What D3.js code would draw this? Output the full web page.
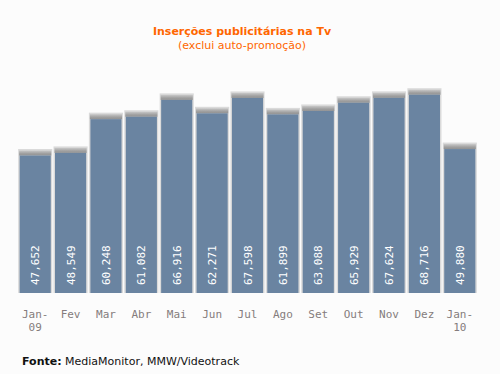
<!DOCTYPE html>
<html>
<head>
<meta charset="utf-8">
<script src="https://cdn.jsdelivr.net/npm/d3@7"></script>
<style>
  body { margin: 0; background: #fcfcfc; }
  svg { display: block; }
  .title { font-family: "DejaVu Sans", Verdana, sans-serif; font-size: 11px; font-weight: bold; fill: #ff6600; }
  .sub { font-family: "DejaVu Sans", Verdana, sans-serif; font-size: 11px; fill: #ff6600; }
  .val { font-family: "DejaVu Sans Mono", monospace; font-size: 11px; fill: #ffffff; }
  .month { font-family: "DejaVu Sans Mono", monospace; font-size: 11px; fill: #857c7c; }
  .src { font-family: "DejaVu Sans", Verdana, sans-serif; font-size: 11px; fill: #111; }
</style>
</head>
<body>
<script>
var months = ['Jan-09', 'Fev', 'Mar', 'Abr', 'Mai', 'Jun', 'Jul', 'Ago', 'Set', 'Out', 'Nov', 'Dez', 'Jan-10'];
var values = [47652, 48549, 60248, 61082, 66916, 62271, 67598, 61899, 63088, 65929, 67624, 68716, 49880];

var width = 500;
var height = 374;

var canvas = d3.select('body')
    .append('svg')
    .attr('width', width)
    .attr('height', height)

var defs = canvas.append('defs')
var grad = defs.append('linearGradient')
    .attr('id', 'cap')
    .attr('x1', 0).attr('y1', 0).attr('x2', 0).attr('y2', 1)
grad.append('stop').attr('offset', '0%').attr('stop-color', '#c8c8c8')
grad.append('stop').attr('offset', '60%').attr('stop-color', '#a0a0a0')
grad.append('stop').attr('offset', '100%').attr('stop-color', '#929292')

var x = d3.scaleBand()
    .domain(months)
    .range([17.5, 477.5])
    .paddingInner(0.12)
    .paddingOuter(0.06)

var y = d3.scaleLinear()
    .domain([0, 70000])
    .range([293, 91])

var bars = canvas.selectAll('g.bar')
    .data(values)
    .enter()
    .append('g')
    .attr('class', 'bar')

// light frame
bars.append('rect')
    .attr('x', function (d, i) { return x(months[i]) - 1.5; })
    .attr('y', function (d) { return y(d) - 6.5; })
    .attr('width', x.bandwidth() + 3)
    .attr('height', function (d) { return y(0) - y(d) + 6.5; })
    .attr('fill', '#dadada')

// dark top cap
bars.append('rect')
    .attr('x', function (d, i) { return x(months[i]) - 0.5; })
    .attr('y', function (d) { return y(d) - 5; })
    .attr('width', x.bandwidth() + 1)
    .attr('height', 5)
    .attr('fill', 'url(#cap)')

// bar body
bars.append('rect')
    .attr('x', function (d, i) { return x(months[i]); })
    .attr('y', function (d) { return y(d); })
    .attr('width', x.bandwidth())
    .attr('height', function (d) { return y(0) - y(d); })
    .attr('fill', '#6a84a1')

// values
bars.append('text')
    .attr('class', 'val')
    .attr('transform', function (d, i) {
        return 'translate(' + (x(months[i]) + x.bandwidth() / 2 + 4) + ',285) rotate(-90)';
    })
    .text(function (d) { return d3.format(',')(d); })

// month labels
var labels = canvas.selectAll('text.month')
    .data(months)
    .enter()
    .append('text')
    .attr('class', 'month')
    .attr('text-anchor', 'middle')
    .attr('y', 318)
labels.each(function (m) {
    var t = d3.select(this);
    var cx = x(m) + x.bandwidth() / 2;
    var parts = m.indexOf('-') > 0 ? [m.split('-')[0] + '-', m.split('-')[1]] : [m];
    parts.forEach(function (p, k) {
        t.append('tspan').attr('x', cx).attr('dy', k === 0 ? 0 : 13).text(p);
    });
});

// titles
canvas.append('text')
    .text('Inserções publicitárias na Tv')
    .attr('class', 'title')
    .attr('text-anchor', 'middle')
    .attr('x', 242)
    .attr('y', 35)
canvas.append('text')
    .text('(exclui auto-promoção)')
    .attr('class', 'sub')
    .attr('text-anchor', 'middle')
    .attr('x', 242)
    .attr('y', 49)

var src = canvas.append('text')
    .attr('class', 'src')
    .attr('x', 22)
    .attr('y', 365)
src.append('tspan').attr('font-weight', 'bold').text('Fonte:')
src.append('tspan').text(' MediaMonitor, MMW/Videotrack')
</script>
</body>
</html>
